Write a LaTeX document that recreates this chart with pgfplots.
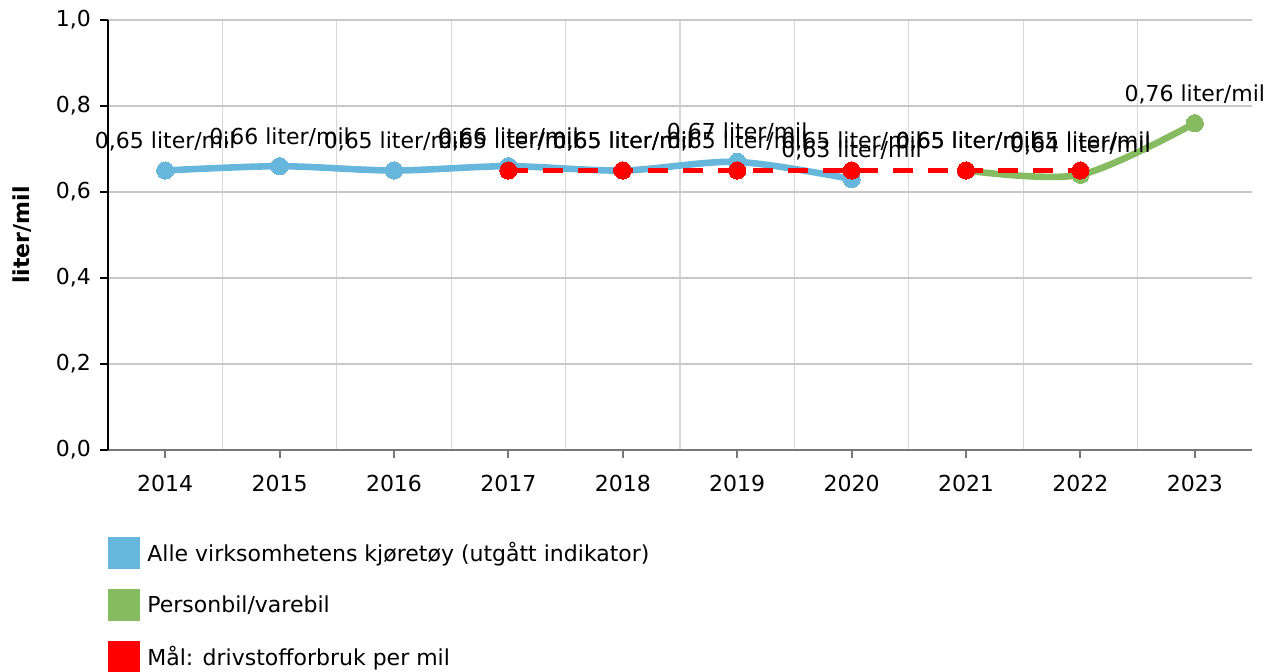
\documentclass[border=0pt]{standalone}
\usepackage{fontspec}
\setmainfont{DejaVu Sans}
\usepackage{pgfplots}
\pgfplotsset{compat=1.18}

\definecolor{lblue}{RGB}{103,183,220}
\definecolor{lgreen}{RGB}{134,187,98}
\definecolor{gridh}{RGB}{200,200,200}
\definecolor{gridv}{RGB}{215,215,215}
\definecolor{axgray}{RGB}{120,120,120}

\begin{document}
\begin{tikzpicture}
\begin{axis}[
    at={(0,0)}, anchor=south west,
    scale only axis,
    width=572pt, height=215pt,
    font=\fontsize{11}{13}\selectfont,
    xmin=-0.5, xmax=9.5,
    ymin=0, ymax=1,
    axis x line=bottom, axis y line=left,
    axis line style={-},
    x axis line style={axgray, line width=0.8pt},
    y axis line style={black, line width=1.2pt},
    xtick={0,...,9},
    xticklabels={2014,2015,2016,2017,2018,2019,2020,2021,2022,2023},
    minor xtick={0.5,1.5,...,8.5},
    xminorgrids=true, xmajorgrids=false,
    minor x grid style={gridv, line width=0.6pt},
    ytick={0,0.2,...,1.0},
    ymajorgrids=true,
    major y grid style={gridh, line width=0.6pt},
    tick align=outside,
    major tick length=4pt,
    minor tick length=0pt,
    x tick style={axgray, line width=1pt},
    y tick style={black, line width=1.2pt},
    xticklabel style={yshift=-5pt},
    yticklabel style={xshift=-1pt},
    /pgf/number format/assume math mode=true,
    yticklabel={\pgfmathprintnumber[fixed,fixed zerofill,precision=1,use comma]{\tick}},
    ylabel={\bfseries liter/mil},
    ylabel style={at={(axis description cs:-0.0752,0.5)}, anchor=center},
    clip=false,
    nodes near coords={\pgfmathprintnumber[fixed,fixed zerofill,precision=2,use comma]{\pgfplotspointmeta}~liter/mil},
    nodes near coords style={anchor=center, yshift=14.5pt, black, font=\fontsize{11}{13}\selectfont},
    legend cell align=left,
    legend style={at={(0,0)}, anchor=north west, yshift=-43.5pt,
        draw=none, fill=none, inner sep=0pt, row sep=10pt,
        nodes={inner xsep=3.5pt, inner ysep=0pt, font=\fontsize{11}{13}\selectfont}},
    legend image code/.code={\fill[#1] (0pt,-8pt) rectangle (16pt,8pt);},
]
\addlegendimage{fill=lblue, draw=none}
\addlegendentry{Alle virksomhetens kjøretøy (utgått indikator)}
\addlegendimage{fill=lgreen, draw=none}
\addlegendentry{Personbil/varebil}
\addlegendimage{fill=red, draw=none}
\addlegendentry{Mål: drivstofforbruk per mil}

\addplot[lblue, line width=3.3pt, smooth, tension=0.5, mark=*, mark size=4.3pt,
    mark options={solid, fill=lblue, draw=lblue, line width=0pt}, forget plot]
  table[x=x, y=y] {
x y
0 0.65
1 0.66
2 0.65
3 0.66
4 0.65
5 0.67
6 0.63
};
\addplot[lgreen, line width=3.3pt, smooth, tension=0.5, mark=*, mark size=4.3pt,
    mark options={solid, fill=lgreen, draw=lgreen, line width=0pt}, forget plot]
  table[x=x, y=y] {
x y
7 0.65
8 0.64
9 0.76
};
\addplot[red, line width=2.5pt, dash pattern=on 10pt off 7.5pt, mark=*, mark size=4.3pt,
    mark options={solid, fill=red, draw=red, line width=0pt}, forget plot]
  table[x=x, y=y] {
x y
3 0.65
4 0.65
5 0.65
6 0.65
7 0.65
8 0.65
};
\end{axis}
\pgfresetboundingbox
\path[use as bounding box] (-54pt,-111pt) rectangle (586.5pt,225pt);
\end{tikzpicture}
\end{document}
